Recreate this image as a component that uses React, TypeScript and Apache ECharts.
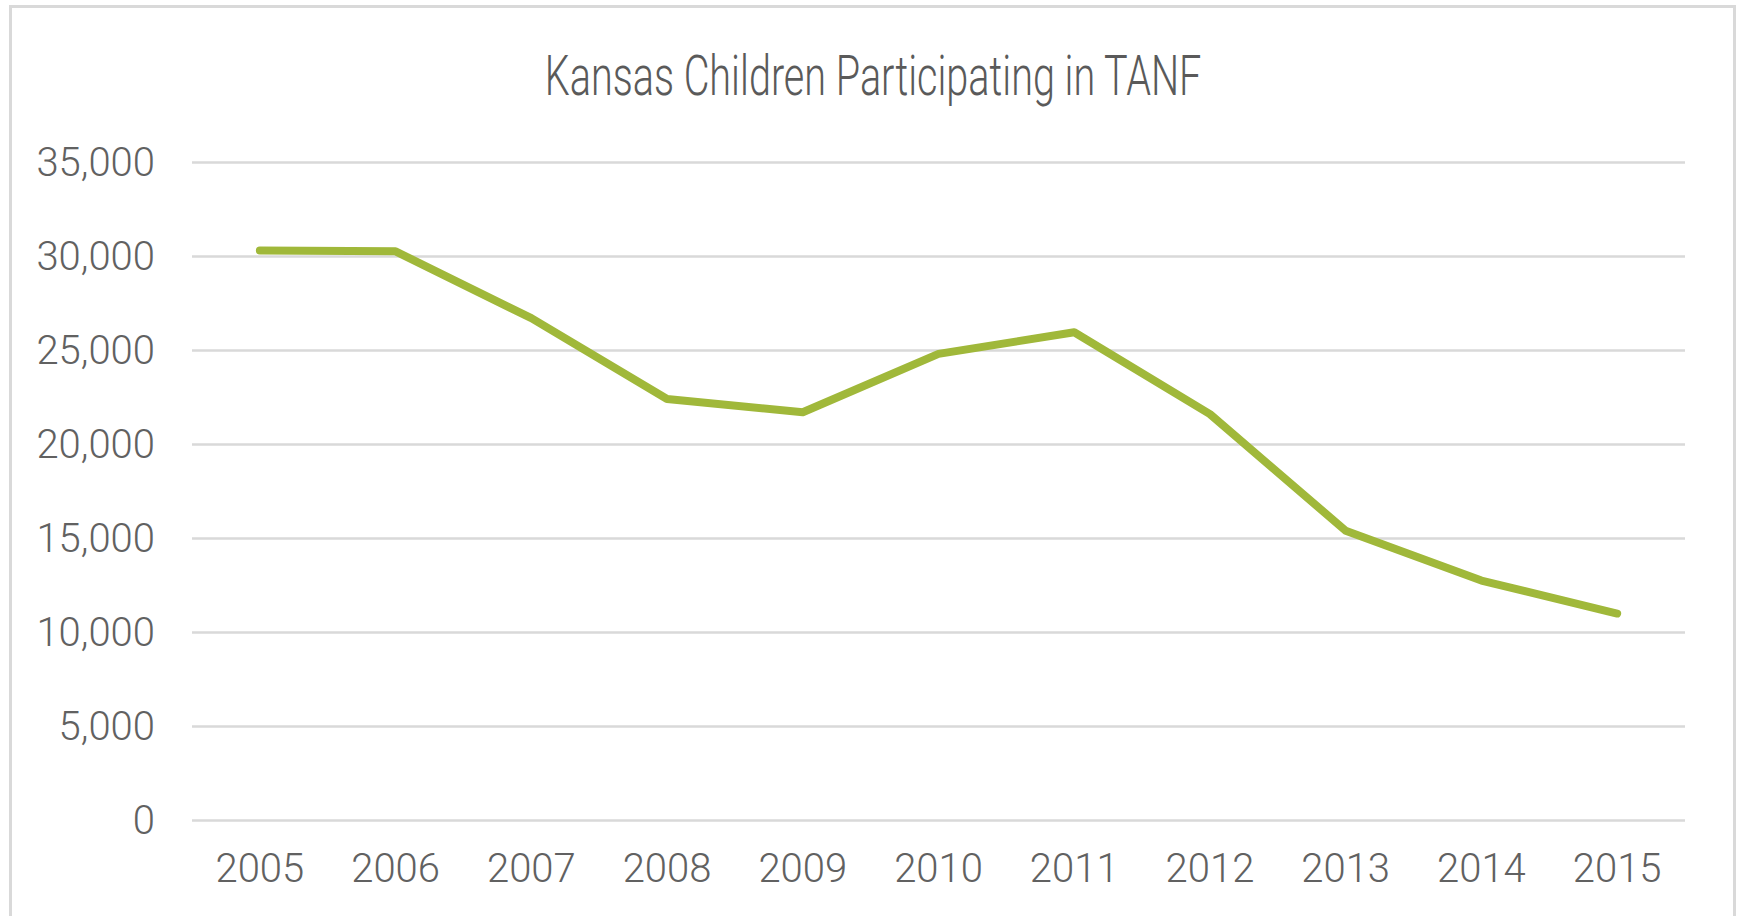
import React, { useEffect, useRef } from "react";
import * as echarts from "echarts";

const TITLE = "Kansas Children Participating in TANF";
const years = ["2005", "2006", "2007", "2008", "2009", "2010", "2011", "2012", "2013", "2014", "2015"];
const children = [30300, 30250, 26700, 22400, 21700, 24800, 25950, 21600, 15400, 12750, 11000];
const yTicks = { min: 0, max: 35000, interval: 5000 };

export default function App() {
  const ref = useRef<HTMLDivElement>(null);
  useEffect(() => {
    if (!ref.current) return;
    const chart = echarts.init(ref.current, null, { renderer: "svg" });
    const labelFont = {
      fontFamily: "Roboto",
      fontWeight: 300 as any,
      fontSize: 40,
      color: "#616161",
    };
    chart.setOption({
      animation: false,
      backgroundColor: "#ffffff",
      graphic: [
        {
          type: "rect",
          shape: { x: 10.5, y: 6.5, width: 1724, height: 940 },
          style: { fill: "none", stroke: "#d9d9d9", lineWidth: 3 },
          silent: true,
        },
        {
          type: "text",
          x: 873,
          y: 77,
          scaleX: 0.72,
          style: {
            text: TITLE,
            fontFamily: "Roboto",
            fontWeight: 300,
            fontSize: 55,
            fill: "#5a5a5a",
            textAlign: "center",
            textVerticalAlign: "middle",
          },
        },
      ],
      grid: { left: 192, right: 56, top: 162, bottom: 95.5, containLabel: false },
      xAxis: {
        type: "category",
        data: years,
        boundaryGap: true,
        axisLine: { show: false },
        axisTick: { show: false },
        axisLabel: { ...labelFont, margin: 28 },
      },
      yAxis: {
        type: "value",
        min: yTicks.min,
        max: yTicks.max,
        interval: yTicks.interval,
        axisLine: { show: false },
        axisTick: { show: false },
        splitLine: { lineStyle: { color: "#d9d9d9", width: 2.5 } },
        axisLabel: {
          ...labelFont,
          margin: 37,
          formatter: (v: number) => v.toLocaleString("en-US"),
        },
      },
      series: [
        {
          type: "line",
          data: children,
          symbol: "none",
          lineStyle: { color: "#a0b83a", width: 8, cap: "round", join: "round" },
        },
      ],
    });
    return () => chart.dispose();
  }, []);
  return (
    <div
      ref={ref}
      style={{ position: "fixed", left: 0, top: 0, width: 1741, height: 916 }}
    />
  );
}
